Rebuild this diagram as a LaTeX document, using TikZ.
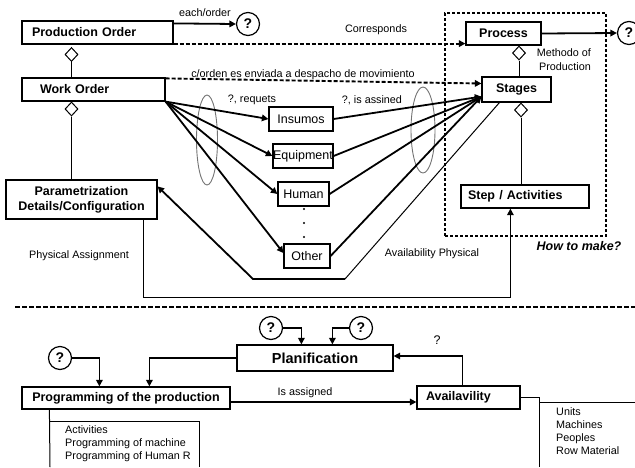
\documentclass[tikz,border=0pt]{standalone}
\usepackage{fontspec}
\setmainfont{Liberation Sans}
\usetikzlibrary{shapes.geometric,arrows.meta,calc}
\tikzset{
  bx/.style={draw, line width=1.2pt, inner ysep=0pt, font=\fontsize{12.5}{15}\selectfont\bfseries},
  rbx/.style={draw, line width=1.2pt, inner sep=0pt, font=\fontsize{12.5}{15}\selectfont},
  lbl/.style={inner sep=0pt, font=\fontsize{10.8}{13.3}\selectfont},
  qc/.style={circle, draw, line width=1.2pt, minimum size=23pt, inner sep=0pt, fill=white, font=\fontsize{14}{14}\selectfont\bfseries},
  dmd/.style={diamond, draw, line width=1pt, fill=white, inner sep=0pt, minimum width=13pt, minimum height=14pt},
  tip/.style={-{Triangle[length=6.5pt,width=6.5pt]}},
  thk/.style={line width=1.8pt, tip},
  mid/.style={line width=1.4pt},
  thin/.style={line width=1pt},
  dsh/.style={line width=1.9pt, dash pattern=on 4pt off 2pt},
  dot/.style={circle, fill, inner sep=0pt, minimum size=2.2pt}
}
\begin{document}
\begin{tikzpicture}[x=1pt,y=-1pt]
\useasboundingbox (0,0) rectangle (635,467);

% dashed region
\node[draw, line width=1.4pt, dash pattern=on 3pt off 2pt, minimum width=161pt, minimum height=223pt, inner sep=0pt] (region) at (525.5,124.5) {};

% boxes
\node[bx, text width=131pt, inner xsep=10pt, align=left, minimum height=23pt] (po) at (97.5,32.5) {Production Order};
\node[bx, text width=107pt, inner xsep=18pt, align=left, minimum height=23pt] (wo) at (93.5,89.5) {Work Order};
\node[bx, text width=151pt, inner xsep=0pt, align=center, minimum height=39pt] (par) at (81.5,199.5) {Parametrization\\Details/Configuration};
\node[bx, inner xsep=0pt, minimum width=75pt, minimum height=23pt] (proc) at (503.5,33.5) {Process};
\node[bx, inner xsep=0pt, minimum width=69pt, minimum height=25pt] (st) at (516.5,89.5) {Stages};
\node[bx, text width=114pt, inner xsep=7pt, align=left, minimum height=23pt] (step) at (525,196.5) {Step / Activities};

\node[rbx, minimum width=64pt, minimum height=24pt] (ins) at (301,119) {Insumos};
\node[rbx, minimum width=60pt, minimum height=24pt] (eq) at (303,156) {Equipment};
\node[rbx, minimum width=51pt, minimum height=24pt] (hum) at (303.5,194) {Human};
\node[rbx, minimum width=46pt, minimum height=24pt] (oth) at (307,256) {Other};
\node[dot] (dt1) at (304,209) {};
\node[dot] (dt2) at (304,223) {};
\node[dot] (dt3) at (304,237) {};

% circles
\node[qc] (q1) at (248,24) {?};
\node[qc] (q2) at (629,33) {?};

% diamonds
\node[dmd] (d1) at (71.5,54.5) {};
\node[dmd] (d2) at (71.5,109) {};
\node[dmd] (d3) at (519,53) {};
\node[dmd] (d4) at (521,110) {};
\draw[thin] (d1.south) -- (d1.south |- wo.north);
\draw[thin] (d2.south) -- (d2.south |- par.north);
\draw[thin] (d3.south) -- (d3.south |- st.north);
\draw[thin] (d4.south) -- (d4.south |- step.north);

% ellipses
\node[ellipse, draw=black!55, line width=0.9pt, minimum width=21pt, minimum height=90pt, inner sep=0pt] (e1) at (207,140) {};
\node[ellipse, draw=black!55, line width=0.9pt, minimum width=24pt, minimum height=86pt, inner sep=0pt] (e2) at (423,130) {};

% top connectors
\draw[thk] ($(po.north east)+(0,3)$) -- (q1.west);
\node[lbl, anchor=base] (l1) at (205,16) {each/order};
\draw[dsh, tip] ($(po.south east)+(0,-1)$) -- ($(proc.south west)+(0,-2)$);
\node[lbl] (l2) at (376,30) {Corresponds};
\draw[thk] (proc.east) -- (q2.west);
\node[lbl, align=right, anchor=east, font=\fontsize{10.8}{14}\selectfont] (l3) at (591,60) {Methodo of\\Production};
\draw[dsh, tip] ($(wo.north east)+(0,1)$) -- ($(st.west)+(0,-6)$);
\node[lbl, anchor=base] (l4) at (303,77.5) {c/orden es enviada a despacho de movimiento};

% work order to resources
\draw[thk] (wo.south east) -- (ins.west);
\draw[thk] (wo.south east) -- (eq.west);
\draw[thk] (wo.south east) -- (hum.west);
\draw[thk] (wo.south east) -- ($(oth.west)+(0,-3)$);
\node[lbl] (l5) at (252,100) {?, requets};

% resources to stages
\coordinate (sthub) at ($(st.south west)+(0,-6)$);
\draw[thk] (ins.east) -- (sthub);
\draw[thk] (eq.east) -- (sthub);
\draw[thk] (hum.east) -- (sthub);
\draw[thk] (oth.east) -- (sthub);
\node[lbl] (l6) at (372,100) {?, is assined};

% physical assignment loop
\coordinate (b1) at (345,279);
\coordinate (b2) at (253,279);
\draw[thin] ($(st.south west)+(18,0)$) -- (b1);
\draw[thk] (b1) -- (b2) -- ($(par.north east)+(0,7)$);
\draw[mid, tip] ($(par.south west)+(138,0)$) |- ($(step.south west)+(50,89)$) -- ($(step.south west)+(50,0)$);
\node[lbl] (l7) at (79,256) {Physical Assignment};
\node[lbl] (l8) at (432,254) {Availability Physical};
\node[inner sep=0pt, font=\fontsize{12.5}{15}\selectfont\bfseries\itshape] (l9) at (579,246) {How to make?};

% separator
\coordinate (sepL) at (15,307);
\coordinate (sepR) at (635,307);
\draw[line width=1.5pt, dash pattern=on 5pt off 2pt] (sepL) -- (sepR);

% lower part
\node[bx, inner xsep=0pt, minimum width=156pt, minimum height=26pt, font=\fontsize{14.5}{16}\selectfont\bfseries] (plan) at (315,358) {Planification};
\node[bx, inner xsep=0pt, minimum width=208pt, minimum height=22pt] (prog) at (126,398) {Programming of the production};
\node[bx, text width=85pt, inner xsep=9pt, align=left, minimum height=23pt] (avail) at (468.5,397.5) {Availavility};
\node[qc] (q3) at (271,328) {?};
\node[qc] (q4) at (361,328) {?};
\node[qc] (q5) at (60,358) {?};

\draw[mid, tip] (q3.east) -| ($(plan.north west)+(65,0)$);
\draw[mid, tip] (q4.west) -| ($(plan.north west)+(96,0)$);
\draw[mid, tip] (q5.east) -| ($(prog.north west)+(78,0)$);
\draw[mid, tip] (plan.west) -| ($(prog.north west)+(128,0)$);
\draw[thk] ($(prog.east)+(0,4)$) -- ($(avail.west)+(0,4.5)$);
\node[lbl] (l10) at (305,393) {Is assigned};
\draw[mid, tip] ($(avail.north west)+(46,0)$) |- ($(plan.east)+(0,-2)$);
\node[inner sep=0pt, font=\fontsize{12.5}{15}\selectfont] (l11) at (437,340) {?};

% availability list
\coordinate (ar) at (539,467);
\coordinate (edgeR) at (635,402);
\draw[thin] ($(avail.east)+(0,-0.5)$) -| (ar);
\draw[thin] (ar |- edgeR) -- (edgeR);
\node[lbl, anchor=north west, align=left] (alist) at (556,407) {Units\\Machines\\Peoples\\Row Material};

% programming list
\coordinate (pl) at (50,467);
\coordinate (pr) at (199,467);
\draw[thin] ($(prog.south west)+(28,0)$) -- (pl);
\draw[thin] (pl |- 0,421) -- (pr |- 0,421) -- (pr);
\node[lbl, anchor=north west, align=left] (plist) at (65,425) {Activities\\Programming of machine\\Programming of Human R};
\end{tikzpicture}
\end{document}
